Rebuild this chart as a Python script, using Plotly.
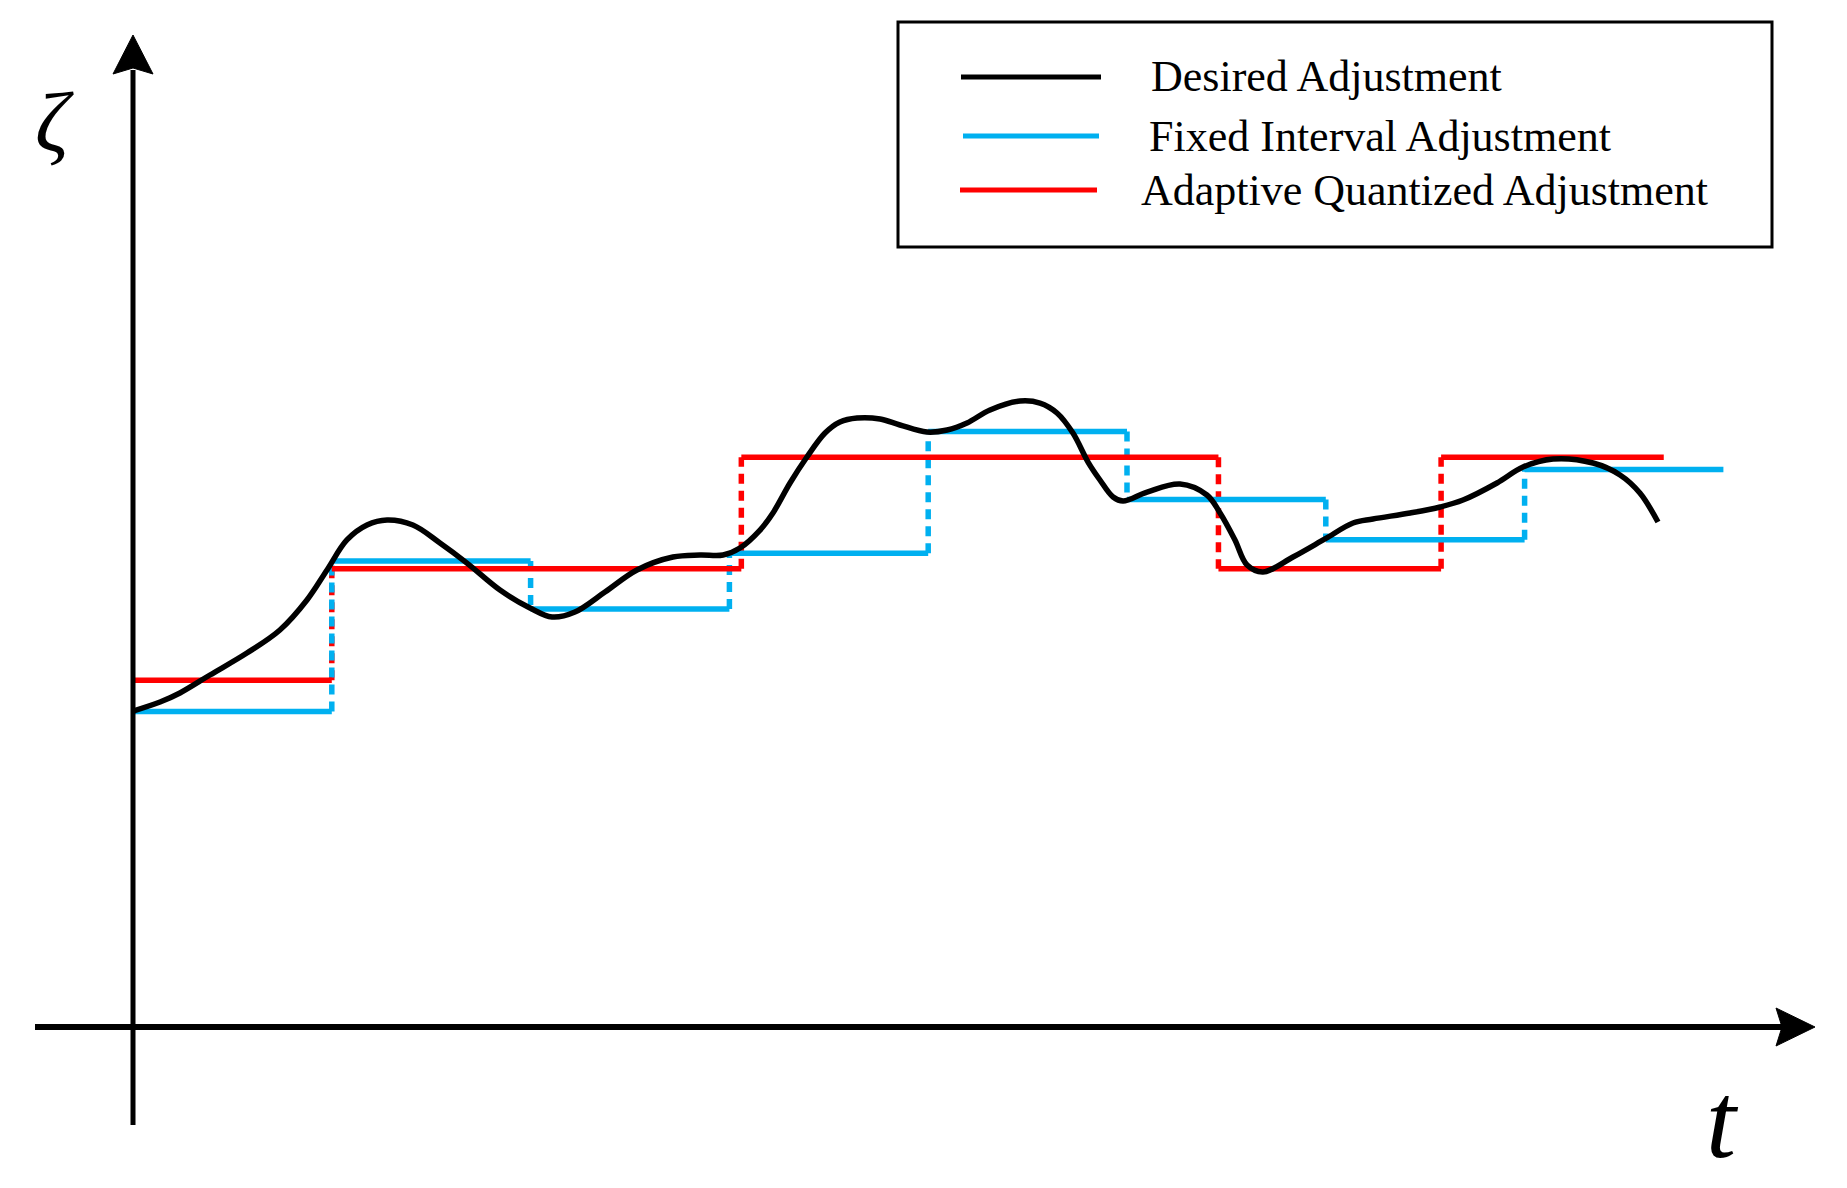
import plotly.graph_objects as go

W, H = 1847, 1188

# ---------------- data (t in fixed-interval units, zeta in quantization units) -------------
desired_t = [0.000, 0.136, 0.236, 0.387, 0.573, 0.739, 0.875, 0.976, 1.076, 1.177, 1.278,
             1.408, 1.544, 1.680, 1.846, 1.997, 2.108, 2.223, 2.374, 2.535, 2.716, 2.852,
             2.968, 3.053, 3.154, 3.219, 3.305, 3.390, 3.481, 3.556, 3.642, 3.758, 3.858,
             3.994, 4.095, 4.195, 4.311, 4.462, 4.562, 4.648, 4.728, 4.804, 4.864, 4.930,
             4.980, 5.101, 5.267, 5.402, 5.468, 5.543, 5.604, 5.684, 5.835, 5.996, 6.137,
             6.237, 6.424, 6.575, 6.690, 6.861, 6.992, 7.143, 7.344, 7.480, 7.580, 7.671]
desired_z = [2.834, 2.915, 2.996, 3.157, 3.354, 3.561, 3.830, 4.099, 4.368, 4.502, 4.547,
             4.502, 4.341, 4.161, 3.919, 3.758, 3.677, 3.722, 3.901, 4.099, 4.215, 4.233,
             4.233, 4.296, 4.457, 4.610, 4.879, 5.112, 5.327, 5.426, 5.462, 5.453, 5.399,
             5.336, 5.354, 5.417, 5.534, 5.614, 5.596, 5.507, 5.327, 5.067, 4.906, 4.753,
             4.717, 4.798, 4.870, 4.771, 4.610, 4.368, 4.143, 4.081, 4.215, 4.377, 4.520,
             4.556, 4.610, 4.664, 4.726, 4.879, 5.022, 5.094, 5.058, 4.951, 4.789, 4.529]

fixed_t = [0, 1, 2, 3, 4, 5, 6, 7, 8]
fixed_z = [2.83, 4.18, 3.75, 4.25, 5.34, 4.73, 4.37, 5.00]

adapt_t = [0, 1.00, 3.06, 5.46, 6.58, 7.70]
adapt_z = [3.11, 4.11, 5.11, 4.11, 5.11]

legend_labels = ["Desired Adjustment", "Fixed Interval Adjustment", "Adaptive Quantized Adjustment"]

BLACK = "#000000"
BLUE = "#00B0F0"
RED = "#FF0000"

# ---------------- geometry: pixel frame -> data frame ----------------
X0PX, Y0PX = 133, 1027      # origin of the drawn axes (pixels)
SX, SY = 198.8, 111.5       # pixels per data unit

def tx(px):
    return (px - X0PX) / SX

def tz(py):
    return (Y0PX - py) / SY

def pxp(px):
    return px / W

def pyp(py):
    return 1 - py / H


def steps(ts, zs):
    hx, hy, vx, vy = [], [], [], []
    for i, z in enumerate(zs):
        hx += [ts[i], ts[i + 1], None]
        hy += [z, z, None]
        if i > 0:
            vx += [ts[i], ts[i], None]
            vy += [zs[i - 1], z, None]
    return hx, hy, vx, vy


fig = go.Figure()

fhx, fhy, fvx, fvy = steps(fixed_t, fixed_z)
ahx, ahy, avx, avy = steps(adapt_t, adapt_z)

fig.add_trace(go.Scatter(x=avx, y=avy, mode="lines", showlegend=False, hoverinfo="skip",
                         line=dict(color=RED, width=5.5, dash="10px,7px")))
fig.add_trace(go.Scatter(x=fvx, y=fvy, mode="lines", showlegend=False, hoverinfo="skip",
                         line=dict(color=BLUE, width=5.5, dash="10px,7px")))
fig.add_trace(go.Scatter(x=fhx, y=fhy, mode="lines", name=legend_labels[1], showlegend=False,
                         line=dict(color=BLUE, width=5.5)))
fig.add_trace(go.Scatter(x=ahx, y=ahy, mode="lines", name=legend_labels[2], showlegend=False,
                         line=dict(color=RED, width=5.5)))
fig.add_trace(go.Scatter(x=desired_t, y=desired_z, mode="lines", name=legend_labels[0],
                         showlegend=False, line=dict(color=BLACK, width=5.5, shape="spline",
                                                     smoothing=1.0)))

shapes = []
# y axis line and arrow
shapes.append(dict(type="line", xref="x", yref="y", x0=0, x1=0, y0=tz(1125), y1=tz(70),
                   line=dict(color=BLACK, width=5)))
shapes.append(dict(type="path", xref="x", yref="y",
                   path=f"M {tx(133)},{tz(35)} L {tx(153)},{tz(74)} L {tx(133)},{tz(68)} "
                        f"L {tx(113)},{tz(74)} Z",
                   fillcolor=BLACK, line=dict(color=BLACK, width=1)))
# x axis line and arrow
shapes.append(dict(type="line", xref="x", yref="y", x0=tx(35), x1=tx(1782), y0=0, y1=0,
                   line=dict(color=BLACK, width=6)))
shapes.append(dict(type="path", xref="x", yref="y",
                   path=f"M {tx(1815)},{tz(1027)} L {tx(1776)},{tz(1008)} L {tx(1782)},{tz(1027)} "
                        f"L {tx(1776)},{tz(1046)} Z",
                   fillcolor=BLACK, line=dict(color=BLACK, width=1)))

# legend box
shapes.append(dict(type="rect", xref="paper", yref="paper", x0=pxp(898), x1=pxp(1772),
                   y0=pyp(247), y1=pyp(22), line=dict(color=BLACK, width=3),
                   fillcolor="rgba(0,0,0,0)"))
leg_y = [77, 136, 190]
leg_x0 = [961, 963, 960]
leg_x1 = [1101, 1099, 1097]
leg_tx = [1149, 1147, 1139]
leg_col = [BLACK, BLUE, RED]
annotations = []
for i in range(3):
    shapes.append(dict(type="line", xref="paper", yref="paper", x0=pxp(leg_x0[i]),
                       x1=pxp(leg_x1[i]), y0=pyp(leg_y[i]), y1=pyp(leg_y[i]),
                       line=dict(color=leg_col[i], width=5)))
    annotations.append(dict(xref="paper", yref="paper", x=pxp(leg_tx[i]), y=pyp(leg_y[i]),
                            text=legend_labels[i], showarrow=False, xanchor="left",
                            yanchor="middle",
                            font=dict(family="Liberation Serif", size=44, color=BLACK)))

annotations.append(dict(xref="paper", yref="paper", x=pxp(54), y=pyp(122), text="<i>ζ</i>",
                        showarrow=False, xanchor="center", yanchor="middle",
                        font=dict(family="Liberation Serif", size=84, color=BLACK)))
annotations.append(dict(xref="paper", yref="paper", x=pxp(1722), y=pyp(1120), text="<i>t</i>",
                        showarrow=False, xanchor="center", yanchor="middle",
                        font=dict(family="Liberation Serif", size=108, color=BLACK)))

fig.update_layout(
    width=W, height=H,
    margin=dict(l=0, r=0, t=0, b=0),
    paper_bgcolor="white", plot_bgcolor="white",
    showlegend=False,
    xaxis=dict(range=[tx(0), tx(W)], visible=False, showgrid=False, zeroline=False, fixedrange=True),
    yaxis=dict(range=[tz(H), tz(0)], visible=False, showgrid=False, zeroline=False, fixedrange=True),
    shapes=shapes,
    annotations=annotations,
)

fig.write_html("out.html", config={"displayModeBar": False},
               post_script="document.body.style.margin='0';document.body.style.overflow='hidden';")
